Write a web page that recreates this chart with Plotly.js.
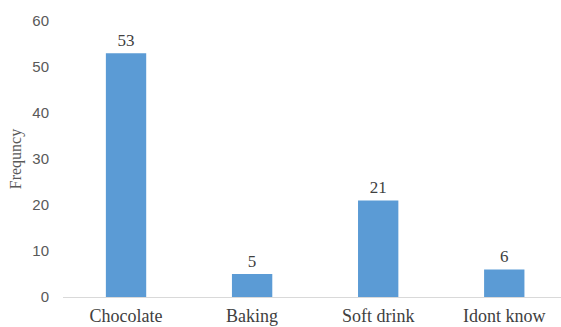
<!DOCTYPE html>
<html><head><meta charset="utf-8">
<script src="https://cdn.plot.ly/plotly-3.0.1.min.js"></script>
<style>html,body{margin:0;padding:0;background:#fff}#c{width:561px;height:327px}</style>
</head><body><div id="c"></div>
<script>
const categories = ["Chocolate", "Baking", "Soft drink", "Idont know"];
const frequency = [53, 5, 21, 6];
const yTicks = [0, 10, 20, 30, 40, 50, 60];

const SERIF = '"Liberation Serif", serif';
const SANS = '"Liberation Sans", sans-serif';

Plotly.newPlot('c', [{
  type: 'bar',
  x: categories,
  y: frequency,
  marker: {color: '#5B9BD5'},
  text: frequency.map(String),
  textposition: 'outside',
  cliponaxis: false,
  textfont: {family: SERIF, size: 17, color: '#404040'},
  hoverinfo: 'none'
}], {
  width: 561, height: 327,
  margin: {l: 63, r: 0, t: 21, b: 30},
  paper_bgcolor: '#fff', plot_bgcolor: '#fff',
  bargap: 0.68,
  showlegend: false,
  xaxis: {
    range: [-0.5, 3.45],
    showline: true, linecolor: '#D9D9D9', linewidth: 1,
    showgrid: false, zeroline: false, ticks: '',
    tickfont: {family: SERIF, size: 18, color: '#404040'},
    ticklabelstandoff: 2
  },
  yaxis: {
    range: [0, 60],
    tickvals: yTicks,
    showgrid: false, zeroline: false, showline: false, ticks: '',
    tickfont: {family: SANS, size: 15, color: '#595959'},
    ticklabelstandoff: 13,
    title: {text: 'Frequncy', font: {family: SERIF, size: 16, color: '#595959'}, standoff: 6}
  }
}, {displayModeBar: false, staticPlot: true});
</script></body></html>
